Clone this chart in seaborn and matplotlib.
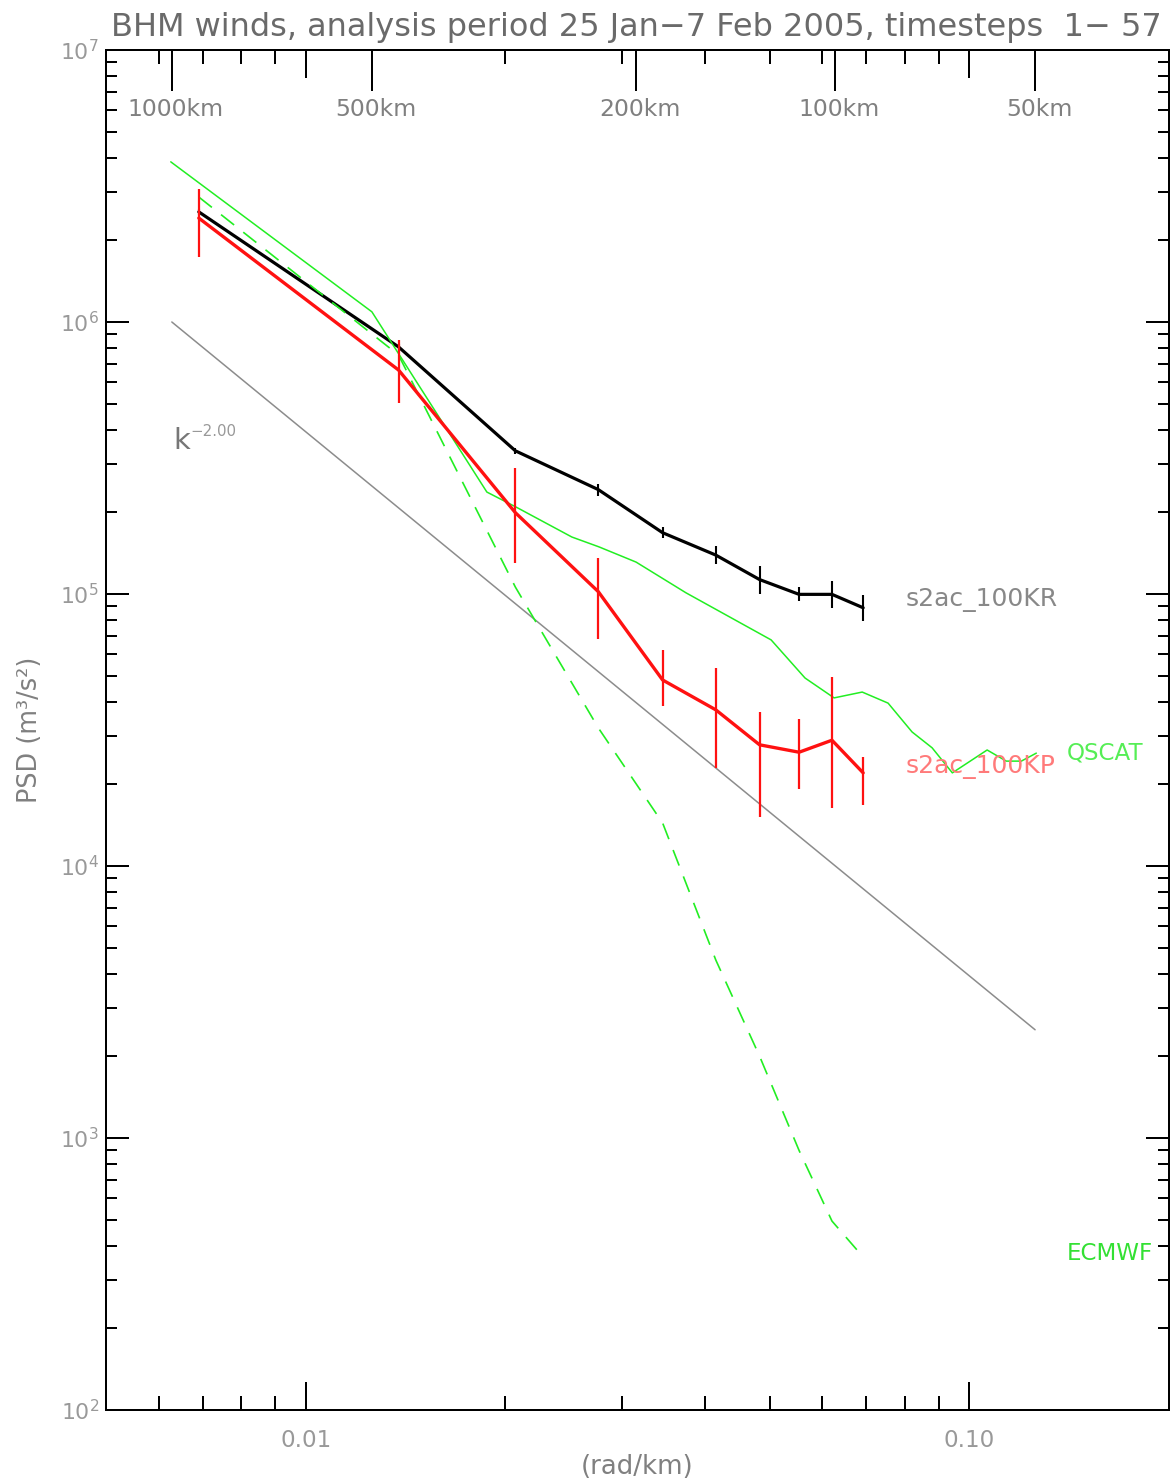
import math
import matplotlib
matplotlib.use("Agg")
import matplotlib.pyplot as plt
import matplotlib.ticker as mticker
import matplotlib.transforms as mtransforms
import seaborn as sns

# ---------------------------------------------------------------- data
title = "BHM winds, analysis period 25 Jan\u22127 Feb 2005, timesteps  1\u2212 57"

# wavenumber bins of the spectra (rad/km)
k_bins = [0.0069, 0.0138, 0.0207, 0.0276, 0.0345, 0.0415, 0.0483, 0.0554, 0.0621, 0.0692]

# s2ac_100KR spectrum and its error-bar bounds
psd_kr = [2.54e6, 8.1e5, 3.36e5, 2.42e5, 1.68e5, 1.39e5, 1.13e5, 9.97e4, 9.97e4, 8.9e4]
kr_lo = [2.48e6, 7.9e5, 3.28e5, 2.29e5, 1.60e5, 1.29e5, 1.00e5, 9.4e4, 8.85e4, 7.97e4]
kr_hi = [2.61e6, 8.3e5, 3.45e5, 2.54e5, 1.76e5, 1.50e5, 1.27e5, 1.06e5, 1.12e5, 9.93e4]

# s2ac_100KP spectrum and its error-bar bounds
psd_kp = [2.41e6, 6.66e5, 1.99e5, 1.02e5, 4.83e4, 3.75e4, 2.79e4, 2.62e4, 2.90e4, 2.20e4]
kp_lo = [1.73e6, 5.04e5, 1.30e5, 6.84e4, 3.87e4, 2.29e4, 1.51e4, 1.92e4, 1.63e4, 1.67e4]
kp_hi = [3.08e6, 8.59e5, 2.90e5, 1.36e5, 6.22e4, 5.35e4, 3.68e4, 3.47e4, 4.95e4, 2.52e4]

# ECMWF spectrum on the same bins
psd_ecmwf = [2.88e6, 7.56e5, 1.06e5, 3.22e4, 1.44e4, 4.51e3, 2.0e3, 9.0e2, 4.95e2, 3.65e2]

# QSCAT spectrum
k_qscat = [0.00626, 0.01258, 0.01875, 0.02073, 0.02518, 0.02767, 0.03147, 0.03742,
           0.05028, 0.05656, 0.06256, 0.06897, 0.07545, 0.0820, 0.0879, 0.0943,
           0.1064, 0.1137, 0.1198, 0.1262]
psd_qscat = [3.88e6, 1.09e6, 2.37e5, 2.09e5, 1.62e5, 1.49e5, 1.31e5, 1.01e5,
             6.78e4, 4.91e4, 4.15e4, 4.36e4, 3.97e4, 3.11e4, 2.72e4, 2.20e4,
             2.67e4, 2.43e4, 2.43e4, 2.60e4]

# k^-2 reference slope, spanning 1000 km to 50 km wavelengths
ref_wavelength_km = [1000, 50]
ref_psd_start = 1.0e6
ref_exponent = -2.00

# wavelength axis along the top
top_wavelengths_km = [1000, 500, 200, 100, 50]

x_major = [0.01, 0.1]
x_major_labels = ["0.01", "0.10"]
x_minor = [0.006, 0.007, 0.008, 0.009, 0.02, 0.03, 0.04, 0.05, 0.06, 0.07, 0.08, 0.09]
y_decades = [2, 3, 4, 5, 6, 7]

# ---------------------------------------------------------------- style
sns.set_style("ticks", {"xtick.direction": "in", "ytick.direction": "in",
                        "axes.edgecolor": "black"})
plt.rcParams["font.family"] = ["DejaVu Sans"]

DPI = 100
PX = 72.0 / DPI          # points per pixel
W, H = 1171, 1484
TXT = "#808080"

fig = plt.figure(figsize=(W / DPI, H / DPI), dpi=DPI)
fig.patch.set_facecolor("white")
ax = fig.add_axes([106 / W, 74 / H, 1063 / W, 1360 / H])
ax.set_facecolor("white")
ax.set_xscale("log")
ax.set_yscale("log")
ax.set_xlim(0.005, 0.2)
ax.set_ylim(1e2, 1e7)

# ---------------------------------------------------------------- marks
k_ref = [2 * math.pi / lam for lam in ref_wavelength_km]
psd_ref = [ref_psd_start * (k / k_ref[0]) ** ref_exponent for k in k_ref]
sns.lineplot(x=k_ref, y=psd_ref, ax=ax, color="#8c8c8c", lw=1.1,
             estimator=None, sort=False)

sns.lineplot(x=k_bins, y=psd_kr, ax=ax, color="black", lw=2.3,
             estimator=None, sort=False)
ax.vlines(k_bins, kr_lo, kr_hi, colors="black", lw=1.5)

sns.lineplot(x=k_qscat, y=psd_qscat, ax=ax, color="#22ee22", lw=1.1,
             estimator=None, sort=False)
sns.lineplot(x=k_bins, y=psd_ecmwf, ax=ax, color="#22ee22", lw=1.2,
             linestyle=(0, (10, 7)), estimator=None, sort=False)

sns.lineplot(x=k_bins, y=psd_kp, ax=ax, color="#ff1111", lw=2.4,
             estimator=None, sort=False)
ax.vlines(k_bins, kp_lo, kp_hi, colors="#ff1111", lw=1.6)

# ---------------------------------------------------------------- top wavelength ticks
ax_top = ax.twiny()
ax_top.set_xscale("log")
ax_top.set_xlim(ax.get_xlim())
ax_top.xaxis.set_major_locator(
    mticker.FixedLocator([2 * math.pi / lam for lam in top_wavelengths_km]))
ax_top.xaxis.set_minor_locator(mticker.NullLocator())
ax_top.tick_params(axis="x", which="major", direction="in", length=41 * PX,
                   width=2 * PX, color="black", top=True, bottom=False,
                   labeltop=False, labelbottom=False)
for s in ax_top.spines.values():
    s.set_visible(False)

top_trans = mtransforms.blended_transform_factory(ax.transData, ax.transAxes)
top_shift = mtransforms.ScaledTranslation(4 / DPI, 0, fig.dpi_scale_trans)
for lam in top_wavelengths_km:
    ax.text(2 * math.pi / lam, (1410 - 109) / 1360, f"{lam}km",
            transform=top_trans + top_shift,
            ha="center", va="center", fontsize=23.5 * PX, color=TXT)

# ---------------------------------------------------------------- axes ticks
ax.xaxis.set_major_locator(mticker.FixedLocator(x_major))
ax.xaxis.set_major_formatter(mticker.FixedFormatter(x_major_labels))
ax.xaxis.set_minor_locator(mticker.FixedLocator(x_minor))
ax.xaxis.set_minor_formatter(mticker.NullFormatter())
ax.tick_params(axis="x", which="major", direction="in", length=28 * PX,
               width=2 * PX, color="black", top=True, bottom=True,
               labelsize=23 * PX, labelcolor="#999999", pad=14)
ax.tick_params(axis="x", which="minor", direction="in", length=14 * PX,
               width=2 * PX, color="black", top=True, bottom=True)

ax.yaxis.set_major_locator(mticker.FixedLocator([10.0 ** d for d in y_decades]))
ax.yaxis.set_major_formatter(
    mticker.FixedFormatter([f"$\\mathregular{{10^{{{d}}}}}$" for d in y_decades]))
ax.yaxis.set_minor_locator(mticker.LogLocator(base=10, subs=range(2, 10), numticks=20))
ax.yaxis.set_minor_formatter(mticker.NullFormatter())
ax.tick_params(axis="y", which="major", direction="in", length=23 * PX,
               width=2 * PX, color="black", left=True, right=True,
               labelsize=22 * PX, labelcolor="#999999", pad=5)
ax.tick_params(axis="y", which="minor", direction="in", length=11 * PX,
               width=2 * PX, color="black", left=True, right=True)

for s in ax.spines.values():
    s.set_visible(True)
    s.set_color("black")
    s.set_linewidth(2 * PX)

# ---------------------------------------------------------------- labels
ax.set_xlabel("(rad/km)", fontsize=26 * PX, color=TXT)
ax.xaxis.set_label_coords(0.5, -(1454 - 1410) / 1360)
ax.set_ylabel("PSD (m\u00b3/s\u00b2)", fontsize=25.5 * PX, color=TXT)
ax.yaxis.set_label_coords((43 - 106) / 1063, (1410 - 730) / 1360)

fig.text(636 / W, 1 - 36 / H, title, ha="center", va="baseline",
         fontsize=32 * PX, color="#6a6a6a")

ax.text((173 - 106) / 1063, (1410 - 441) / 1360, "k", transform=ax.transAxes,
        ha="left", va="center", fontsize=29 * PX, color="#777777")
ax.text((190 - 106) / 1063, (1410 - 431) / 1360, "\u22122.00", transform=ax.transAxes,
        ha="left", va="center", fontsize=15 * PX, color="#999999")

ax.text((906 - 106) / 1063, (1410 - 600) / 1360, "s2ac_100KR", transform=ax.transAxes,
        ha="left", va="center", fontsize=25 * PX, color="#888888")
ax.text((906 - 106) / 1063, (1410 - 767) / 1360, "s2ac_100KP", transform=ax.transAxes,
        ha="left", va="center", fontsize=25 * PX, color="#ff7a7a")
ax.text((1067 - 106) / 1063, (1410 - 753) / 1360, "QSCAT", transform=ax.transAxes,
        ha="left", va="center", fontsize=23 * PX, color="#55ee55")
ax.text((1067 - 106) / 1063, (1410 - 1253) / 1360, "ECMWF", transform=ax.transAxes,
        ha="left", va="center", fontsize=23 * PX, color="#33e033")

fig.savefig("out.png", dpi=DPI, facecolor="white")
